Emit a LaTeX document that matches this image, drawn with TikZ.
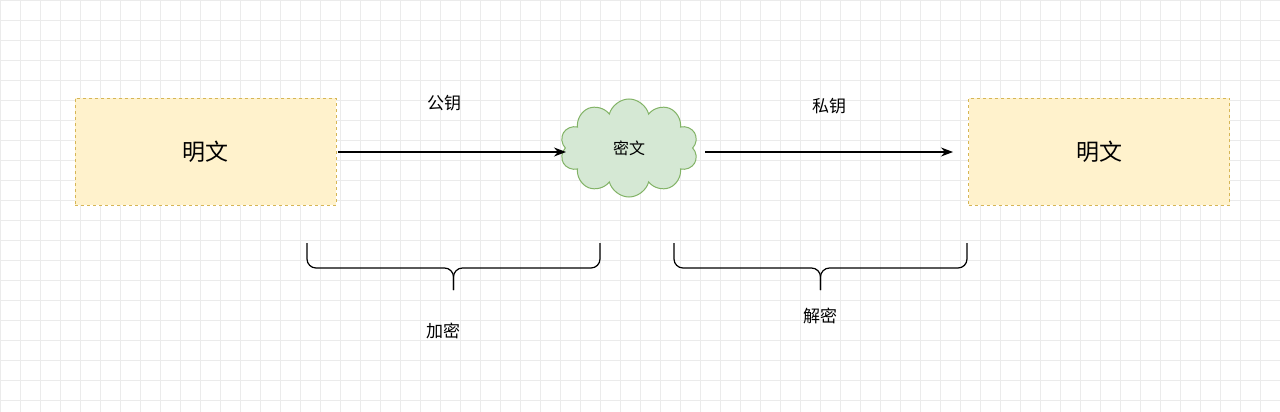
\documentclass[tikz,border=0pt]{standalone}
\usepackage{fontspec}
\setmainfont{Noto Sans CJK SC}
\usetikzlibrary{shapes.symbols,arrows.meta}
\definecolor{yfill}{HTML}{FFF2CC}
\definecolor{ydraw}{HTML}{D6B656}
\definecolor{gfill}{HTML}{D5E8D4}
\definecolor{gdraw}{HTML}{82B366}
\tikzset{
  plain/.style={draw=ydraw,fill=yfill,dashed,minimum width=261pt,minimum height=107pt,font=\fontsize{23}{27}\selectfont},
  lbl/.style={font=\fontsize{17}{20}\selectfont},
  arr/.style={-{Stealth[length=12pt,width=9pt]},line width=1.2pt},
  br/.style={line width=1.2pt,rounded corners=9pt}
}
\begin{document}
\begin{tikzpicture}[x=1pt,y=-1pt]
\useasboundingbox (0,0) rectangle (1280,412);
\fill[white] (0,0) rectangle (1280,412);
\foreach \i in {0,20,...,1280} \draw[black!8,line width=0.6pt] (\i,0) -- (\i,412);
\foreach \j in {0,20,...,412} \draw[black!8,line width=0.6pt] (0,\j) -- (1280,\j);
\node[plain] (p1) at (205.5,151.5) {明文};
\node[plain] (p2) at (1099,151.5) {明文};
\node[cloud,cloud puffs=10,aspect=1.5,draw=gdraw,fill=gfill,line width=1pt,minimum width=138pt,minimum height=98pt,inner sep=0pt,font=\fontsize{16}{19}\selectfont] (c) at (629,148) {密文};
\coordinate (a0) at (338,152);
\coordinate (a1) at (566,152);
\coordinate (a2) at (705,152);
\coordinate (a3) at (953,152);
\draw[arr] (a0) -- (a1);
\draw[arr] (a2) -- (a3);
\node[lbl] (k1) at (444,103) {公钥};
\node[lbl] (k2) at (829,106) {私钥};
\foreach \a/\b in {307/600,674/967}{
  \pgfmathsetmacro\m{(\a+\b)/2}
  \draw[br] (\a,243) -- (\a,268) -- (\m,268) -- (\m,290);
  \draw[br] (\b,243) -- (\b,268) -- (\m,268) -- (\m,290);
}
\node[lbl] (e1) at (443,331) {加密};
\node[lbl] (e2) at (820,316) {解密};
\end{tikzpicture}
\end{document}
